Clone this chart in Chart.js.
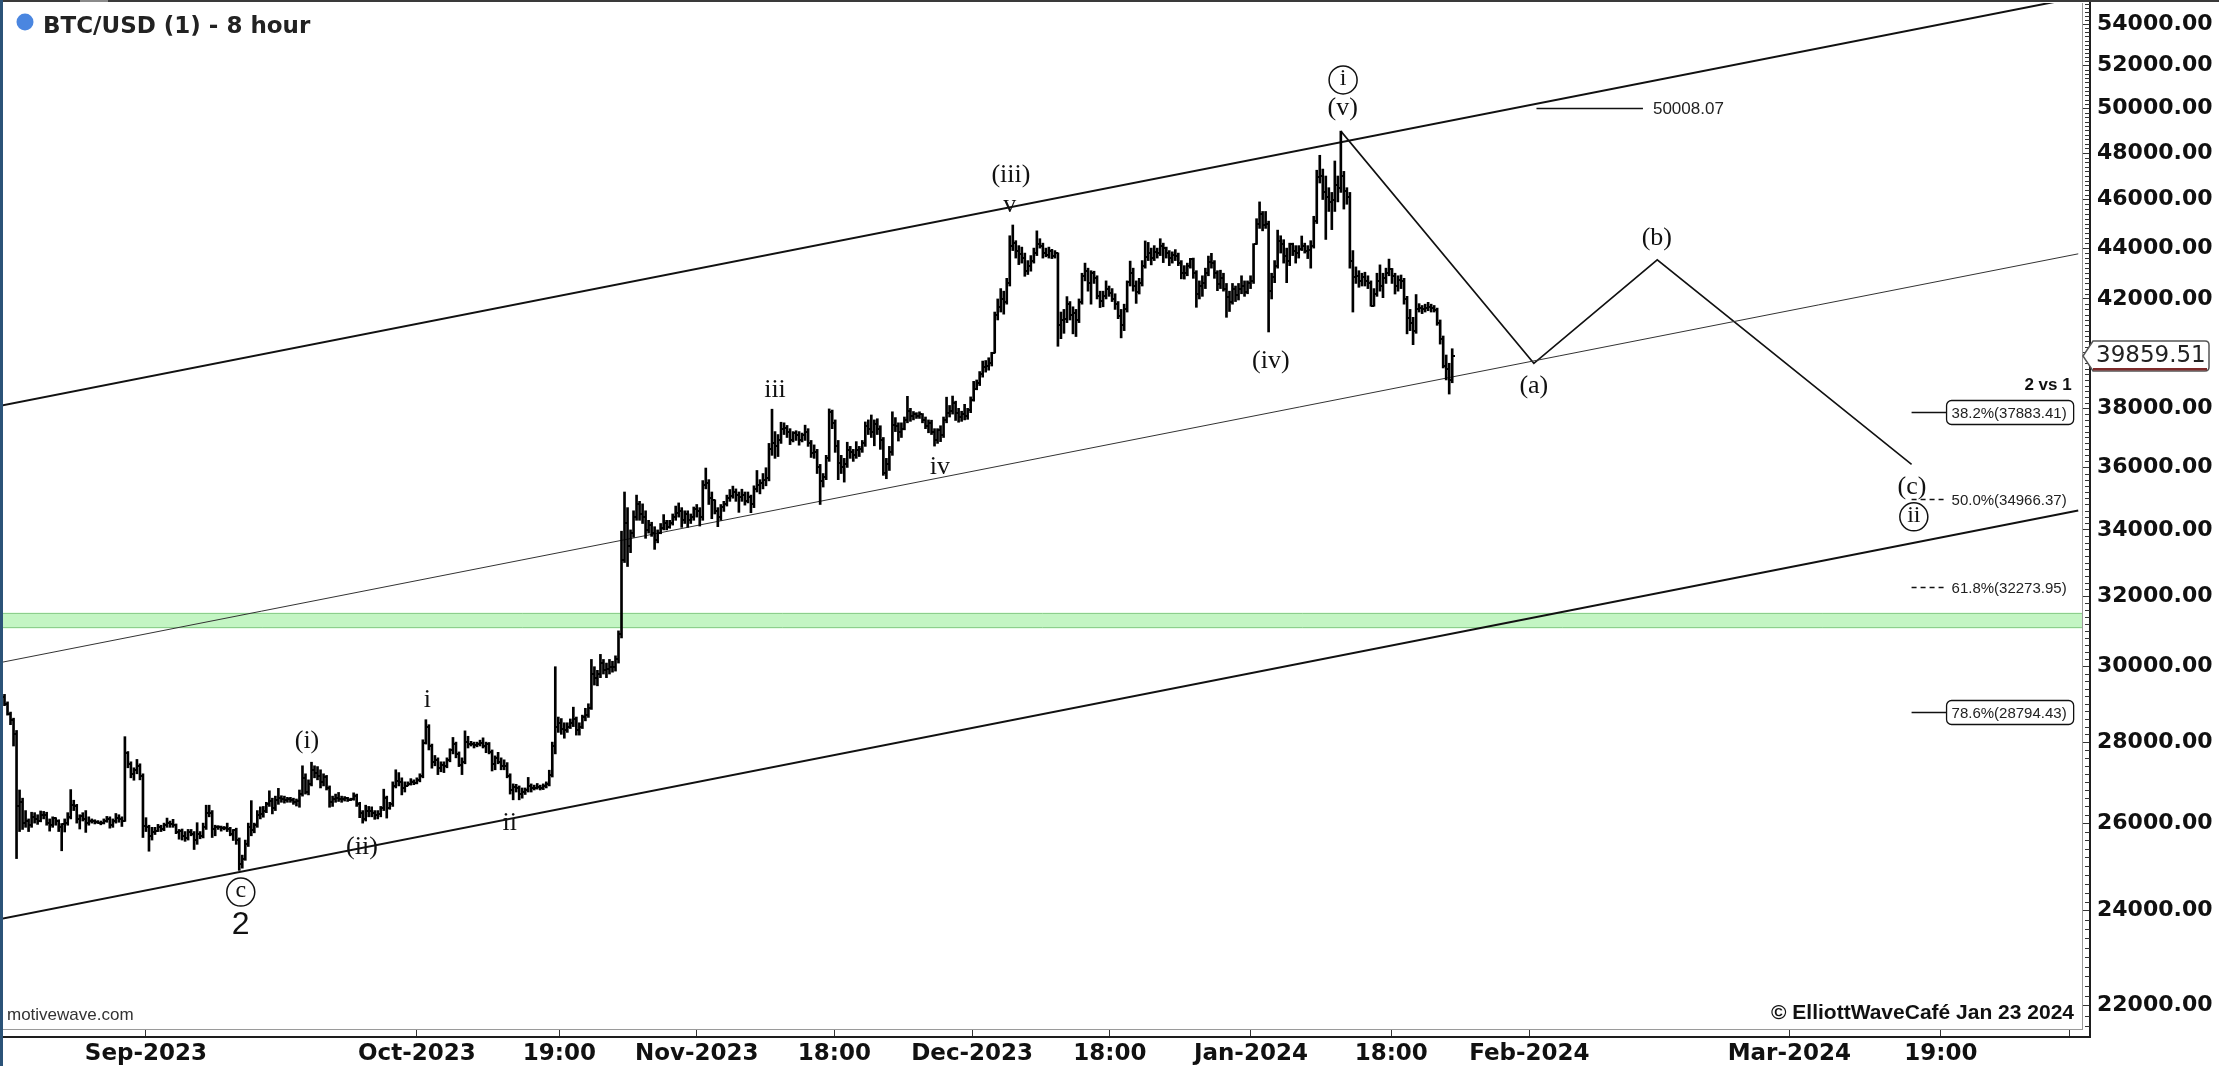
<!DOCTYPE html>
<html>
<head>
<meta charset="utf-8">
<title>BTC/USD (1) - 8 hour</title>
<script src="https://cdn.jsdelivr.net/npm/chart.js@4.4.1/dist/chart.umd.min.js"></script>
<style>
  html, body { margin: 0; padding: 0; background: #fff; }
  #wrap { width: 2219px; height: 1066px; }
</style>
</head>
<body>
<div id="wrap"><canvas id="chart" width="2219" height="1066"></canvas></div>
<script>
// ========================
// DATA (8 hour bars, one line per day)
// ========================
const firstBarTime = Date.UTC(2023, 7, 16, 8);
const BAR_MS = 8 * 3600 * 1000;
const firstOpen = 29170;

const barHigh = [
  // Aug
  29250, 29050,
  28780, 28620, 28300,
  26800, 26600, 26300,
  26100, 26260, 26250,
  26200, 26290, 26280,
  26260, 26100, 26150,
  26130, 26080, 25990,
  26100, 26250, 26810,
  26550, 26450, 26200,
  26250, 26300, 26150,
  26100, 26080, 26060,
  26050, 26100, 26160,
  26150, 26100, 26230,
  26200, 26150, 28140,
  27760, 27500, 27350,
  27560, 27450, 27200,
  // Sep
  26130, 25950, 25900,
  25900, 25970, 25950,
  26000, 26120, 26050,
  26090, 25980, 25850,
  25860, 25800, 25850,
  25850, 25800, 26010,
  25800, 26000, 26430,
  26430, 26300, 25950,
  25940, 25930, 25920,
  26000, 25900, 25850,
  25880, 25650, 25250,
  25600, 26000, 26540,
  26000, 26300, 26390,
  26400, 26500, 26780,
  26600, 26650, 26840,
  26660, 26650, 26620,
  26620, 26600, 26580,
  26800, 27400, 27200,
  27050, 27490, 27400,
  27380, 27300, 27200,
  27160, 26900, 26650,
  26700, 26740, 26650,
  26640, 26620, 26600,
  26730, 26700, 26500,
  26300, 26430, 26400,
  26390, 26300, 26300,
  26400, 26820, 26650,
  26500, 27000, 27300,
  27230, 27100, 27000,
  27000, 27080, 27050,
  // Oct
  27100, 27200, 28060,
  28580, 28450, 27950,
  27660, 27600, 27500,
  27500, 27600, 27830,
  28120, 28000, 27750,
  27600, 28290, 28150,
  28020, 28000, 28000,
  28050, 28110, 28000,
  27990, 27800, 27650,
  27740, 27600, 27550,
  27480, 27200, 26950,
  26940, 26900, 26850,
  26850, 27110, 26950,
  26920, 26960, 26920,
  26950, 27000, 27290,
  28000, 30000, 28650,
  28610, 28500, 28500,
  28600, 28910, 28650,
  28500, 28700, 28880,
  29000, 30200, 30000,
  29900, 30340, 30200,
  30100, 30200, 30150,
  30300, 31000, 33960,
  35200, 34700, 34000,
  34600, 35100, 34900,
  34820, 34600, 34300,
  34240, 34100, 34000,
  34200, 34480, 34300,
  34300, 34500, 34750,
  34850, 34700, 34600,
  34600, 34500, 34720,
  // Nov
  34800, 34700, 35570,
  35980, 35600, 35200,
  34950, 34700, 34800,
  34900, 35100, 35280,
  35390, 35300, 35200,
  35290, 35200, 35200,
  35100, 35400, 35900,
  35600, 35800, 35990,
  36800, 37970, 37200,
  37100, 37520, 37500,
  37410, 37300, 37200,
  37230, 37200, 37150,
  37420, 37300, 36900,
  36750, 36600, 36100,
  35800, 36400, 37980,
  37940, 37600, 36900,
  36400, 36300, 36840,
  36700, 36600, 36860,
  36700, 36900, 37530,
  37600, 37770, 37600,
  37640, 37400, 37000,
  36300, 36700, 37880,
  37680, 37500, 37500,
  37700, 38420, 38000,
  37890, 37850, 37880,
  37820, 37700, 37600,
  37590, 37300, 37300,
  37400, 37700, 38390,
  38100, 38430, 38250,
  38000, 37900, 38140,
  // Dec
  38000, 38400, 38950,
  39000, 39300, 39680,
  39700, 39800, 40000,
  41500, 42000, 42400,
  42300, 42800, 44500,
  44940, 44300, 44100,
  44040, 43800, 43500,
  43700, 44000, 44700,
  44380, 44200, 44000,
  44040, 43950, 43900,
  43810, 41500, 41600,
  42090, 41900, 41700,
  41600, 42000, 43000,
  43400, 43200, 43100,
  43080, 42900, 42300,
  42300, 42700, 42500,
  42400, 42200, 41900,
  41600, 41800, 42700,
  43480, 43200, 42700,
  42800, 43500, 44290,
  44230, 44000, 44100,
  44000, 44380, 44200,
  44040, 43900, 43850,
  43940, 43800, 43500,
  43300, 43400, 43590,
  43600, 43100, 42700,
  42900, 43200, 43680,
  43790, 43500, 43100,
  43120, 43000, 42600,
  42300, 42600, 42500,
  42600, 42900, 42700,
  // Jan
  42700, 42900, 44180,
  45200, 45900, 45500,
  45500, 45100, 43000,
  43500, 44730, 44500,
  44340, 44000, 44200,
  44200, 44100, 44100,
  44490, 44200, 44100,
  44300, 45300, 47250,
  47900, 47300, 47000,
  46500, 46300, 47650,
  47000, 48970, 47200,
  46500, 46300, 43900,
  43250, 43100, 43000,
  43040, 42900, 42700,
  42400, 43000, 43330,
  43000, 43200, 43560,
  43190, 43000, 42900,
  42930, 42800, 42100,
  41600, 41300, 42170,
  41820, 41750, 41800,
  41870, 41800, 41750,
  41650, 41200, 40600,
  39900, 39600, 40130
];

const barLow = [
  // Aug
  28950, 28700,
  28450, 27900, 25170,
  25800, 25850, 25900,
  25800, 25900, 26000,
  25970, 26030, 26100,
  25950, 25810, 25900,
  25950, 25800, 25350,
  25790, 25950, 26100,
  26300, 26000, 25860,
  26050, 25780, 25950,
  26000, 25980, 25990,
  25960, 25980, 26020,
  25880, 25900, 26000,
  26020, 25920, 26040,
  27350, 27100, 27040,
  27200, 27050, 25660,
  // Sep
  25800, 25340, 25600,
  25730, 25800, 25800,
  25820, 25900, 25900,
  25900, 25750, 25620,
  25600, 25570, 25600,
  25700, 25380, 25500,
  25630, 25650, 25850,
  26150, 25660, 25700,
  25850, 25810, 25840,
  25800, 25700, 25590,
  25500, 24900, 24950,
  25130, 25450, 25700,
  25770, 25900, 26100,
  26140, 26250, 26400,
  26220, 26300, 26450,
  26500, 26480, 26500,
  26500, 26450, 26410,
  26380, 26650, 26700,
  26680, 26900, 27100,
  27050, 26850, 26900,
  26800, 26380, 26400,
  26500, 26520, 26500,
  26530, 26520, 26540,
  26550, 26400, 26130,
  26000, 26050, 26150,
  26150, 26090, 26100,
  26150, 26300, 26120,
  26330, 26400, 26850,
  26900, 26680, 26750,
  26900, 26920, 26930,
  // Oct
  26950, 27000, 27100,
  27950, 27800, 27340,
  27400, 27180, 27250,
  27230, 27350, 27500,
  27700, 27600, 27380,
  27180, 27450, 27850,
  27900, 27850, 27880,
  27900, 27850, 27730,
  27700, 27270, 27300,
  27450, 27300, 27300,
  27100, 26700, 26560,
  26750, 26560, 26600,
  26690, 26750, 26750,
  26800, 26820, 26800,
  26810, 26850, 26900,
  27120, 27700, 28250,
  28200, 28100, 28250,
  28350, 28400, 28180,
  28180, 28350, 28550,
  28640, 28850, 29500,
  29480, 29700, 29800,
  29700, 29800, 29850,
  29880, 30100, 30800,
  33000, 32880, 33300,
  33770, 34300, 34300,
  34200, 33740, 33900,
  33800, 33400, 33600,
  33880, 34000, 34000,
  34050, 34150, 34300,
  34400, 34080, 34200,
  34080, 34200, 34300,
  // Nov
  34400, 34120, 34300,
  35300, 34800, 34350,
  34500, 34100, 34300,
  34580, 34750, 34900,
  35000, 34900, 34550,
  34900, 34780, 34850,
  34540, 34700, 35200,
  35140, 35300, 35400,
  35560, 36400, 36300,
  36360, 36800, 37100,
  37000, 36760, 36850,
  36900, 36740, 36850,
  36900, 36700, 36330,
  36300, 35800, 34800,
  35360, 35600, 36200,
  37300, 36500, 35600,
  35800, 35520, 36000,
  36300, 36200, 36300,
  36360, 36500, 36700,
  37100, 37000, 36720,
  37100, 36600, 35740,
  35630, 35900, 36400,
  37200, 36880, 37000,
  37260, 37500, 37550,
  37600, 37650, 37650,
  37500, 37300, 37160,
  37100, 36710, 36800,
  36860, 37000, 37500,
  37700, 37800, 37580,
  37520, 37550, 37600,
  // Dec
  37620, 37850, 38250,
  38650, 38800, 39100,
  39280, 39350, 39500,
  39970, 41200, 41500,
  41420, 41800, 42500,
  43900, 43600, 43340,
  43400, 42880, 42950,
  43080, 43400, 43700,
  44000, 43600, 43650,
  43600, 43580, 43600,
  40220, 40500, 40700,
  41100, 41200, 40680,
  40580, 41100, 41800,
  42700, 42300, 41800,
  42600, 42000, 41670,
  41700, 42000, 42100,
  41900, 41600, 41250,
  40530, 40800, 41500,
  42500, 42300, 41830,
  42190, 42500, 43200,
  43500, 43330, 43500,
  43600, 43700, 43420,
  43600, 43300, 43400,
  43500, 43300, 42780,
  42770, 42900, 43200,
  42800, 41680, 42000,
  42100, 42400, 42900,
  43200, 42800, 42320,
  42400, 42300, 41300,
  41520, 41800, 41900,
  41960, 42200, 42100,
  // Jan
  42200, 42400, 42600,
  44150, 44800, 44700,
  44800, 40750, 42000,
  42630, 43200, 43800,
  43400, 42630, 43300,
  43700, 43400, 43600,
  43900, 43800, 43580,
  43200, 44000, 45000,
  46700, 46000, 44350,
  45500, 44750, 45500,
  45900, 46300, 45600,
  45800, 43200, 41500,
  42600, 42450, 42500,
  42500, 42400, 41720,
  41720, 42100, 42300,
  42050, 42600, 42900,
  42600, 42190, 42300,
  42400, 41800, 40680,
  40800, 40280, 40700,
  41500, 41440, 41500,
  41550, 41500, 41500,
  41000, 40300, 39430,
  39000, 38500, 38900
];

const barClose = [
  // Aug
  29000, 28720,
  28560, 28200, 26400,
  26500, 26000, 26050,
  25950, 26150, 26100,
  26050, 26200, 26190,
  26000, 25950, 26120,
  26050, 25900, 25990,
  26000, 26150, 26430,
  26420, 26100, 26160,
  26100, 26000, 26050,
  26050, 26020, 26010,
  26000, 26060, 26090,
  25950, 26050, 26110,
  26100, 26050, 27720,
  27450, 27200, 27300,
  27400, 27150, 25940,
  // Sep
  25900, 25700, 25800,
  25820, 25900, 25870,
  25950, 26000, 25970,
  25950, 25800, 25810,
  25700, 25650, 25780,
  25750, 25600, 25750,
  25700, 25900, 26240,
  26250, 25850, 25910,
  25900, 25880, 25890,
  25850, 25750, 25830,
  25600, 25050, 25160,
  25500, 25900, 25840,
  25950, 26200, 26220,
  26300, 26450, 26530,
  26350, 26550, 26600,
  26580, 26550, 26570,
  26560, 26500, 26530,
  26700, 27100, 26760,
  26950, 27300, 27210,
  27150, 27000, 27130,
  26850, 26500, 26570,
  26600, 26580, 26580,
  26600, 26560, 26580,
  26650, 26450, 26250,
  26100, 26300, 26300,
  26250, 26200, 26220,
  26350, 26600, 26350,
  26450, 26900, 27020,
  27000, 26850, 26910,
  26950, 27000, 26970,
  // Oct
  27050, 27150, 27990,
  28400, 27900, 27500,
  27550, 27350, 27430,
  27400, 27550, 27790,
  27950, 27700, 27410,
  27500, 28000, 27950,
  27950, 27920, 27960,
  27980, 27900, 27940,
  27750, 27450, 27590,
  27500, 27400, 27390,
  27150, 26800, 26880,
  26850, 26700, 26760,
  26800, 26900, 26860,
  26850, 26880, 26860,
  26900, 26950, 27160,
  27900, 28400, 28500,
  28350, 28300, 28400,
  28500, 28600, 28320,
  28400, 28650, 28710,
  28900, 29800, 29680,
  29800, 30100, 29910,
  29950, 30000, 29990,
  30200, 30900, 33080,
  34200, 33500, 33900,
  34400, 34800, 34500,
  34400, 34000, 34160,
  33900, 33700, 33910,
  34050, 34200, 34090,
  34200, 34400, 34540,
  34600, 34300, 34500,
  34300, 34400, 34660,
  // Nov
  34600, 34400, 35440,
  35500, 35000, 34940,
  34600, 34400, 34730,
  34800, 35000, 35080,
  35200, 35100, 35050,
  35100, 34900, 35050,
  34800, 35300, 35430,
  35500, 35600, 35650,
  36600, 36800, 36700,
  36900, 37300, 37320,
  37200, 36900, 37140,
  37100, 36900, 37070,
  37200, 36800, 36480,
  36500, 36000, 35550,
  35700, 36300, 37880,
  37500, 36700, 36150,
  36000, 36100, 36590,
  36500, 36400, 36590,
  36600, 36800, 37380,
  37300, 37200, 37470,
  37300, 36900, 35810,
  36100, 36500, 37430,
  37400, 37200, 37290,
  37600, 37900, 37720,
  37800, 37750, 37800,
  37600, 37400, 37480,
  37200, 36900, 37250,
  37100, 37600, 37830,
  37900, 38200, 37850,
  37700, 37800, 37720,
  // Dec
  37950, 38300, 38690,
  38900, 39200, 39470,
  39500, 39600, 39980,
  41400, 41700, 41980,
  41900, 42600, 44080,
  44200, 43900, 43770,
  43600, 43100, 43290,
  43500, 43800, 44170,
  44100, 43800, 43720,
  43900, 43700, 43790,
  41000, 41200, 41240,
  41800, 41400, 41450,
  41200, 41900, 42890,
  43100, 42600, 43020,
  42800, 42100, 41930,
  42100, 42400, 42240,
  42000, 41800, 41360,
  41000, 41600, 42650,
  43000, 42500, 42270,
  42600, 43300, 43660,
  43800, 43600, 43860,
  43800, 44100, 43990,
  43800, 43600, 43740,
  43700, 43400, 43020,
  43000, 43300, 43580,
  43000, 42200, 42520,
  42600, 43000, 43440,
  43400, 43000, 42580,
  42800, 42400, 42070,
  41900, 42400, 42140,
  42400, 42500, 42280,
  // Jan
  42600, 42700, 44180,
  45000, 45400, 44950,
  45000, 42300, 42850,
  43300, 44300, 44180,
  43700, 43500, 44160,
  43900, 43800, 43970,
  44100, 43900, 43930,
  44100, 45100, 46970,
  47000, 46300, 46110,
  45900, 46000, 46630,
  46500, 47000, 46350,
  46100, 43500, 42850,
  42900, 42700, 42840,
  42700, 42600, 41730,
  42200, 42700, 42510,
  42800, 43000, 43150,
  42900, 42500, 42740,
  42700, 42000, 41260,
  41100, 40800, 41620,
  41650, 41600, 41660,
  41700, 41650, 41560,
  41100, 40500, 39500,
  39400, 39000, 39859.51
];

// axes
const viewStart = Date.UTC(2023, 7, 16, 4);
const viewEnd = Date.UTC(2024, 3, 2, 10);
const priceMin = 21536;
const priceMax = 55061;
const priceTicks = [22000, 24000, 26000, 28000, 30000, 32000, 34000, 36000, 38000, 40000,
  42000, 44000, 46000, 48000, 50000, 52000, 54000];
const dateTickTimes = [
  Date.UTC(2023, 8, 1), Date.UTC(2023, 9, 1), Date.UTC(2023, 9, 16, 19),
  Date.UTC(2023, 10, 1), Date.UTC(2023, 10, 16, 6), Date.UTC(2023, 11, 1, 12),
  Date.UTC(2023, 11, 16, 18), Date.UTC(2024, 0, 1, 9), Date.UTC(2024, 0, 16, 22),
  Date.UTC(2024, 1, 1, 5), Date.UTC(2024, 2, 1), Date.UTC(2024, 2, 17, 19), Date.UTC(2024, 3, 1)
];
const dateTickLabels = ['Sep-2023', 'Oct-2023', '19:00', 'Nov-2023', '18:00', 'Dec-2023',
  '18:00', 'Jan-2024', '18:00', 'Feb-2024', 'Mar-2024', '19:00', ''];

// channel
const channelTimes = [Date.UTC(2023, 7, 16), Date.UTC(2024, 3, 2)];
const upperChannel = [38100, 55350];
const middleChannel = [30120, 43770];
const lowerChannel = [23820, 34610];

// projected path (v) -> (a) -> (b) -> (c)
const pathTimes = [Date.UTC(2024, 0, 11, 8), Date.UTC(2024, 1, 1, 17), Date.UTC(2024, 1, 15, 9), Date.UTC(2024, 2, 14, 13)];
const pathPrices = [48970, 39600, 43530, 36100];

// wave labels
const waveText = ['(i)', 'i', '(ii)', 'ii', 'c', '2', 'iii', 'iv', '(iii)', 'v', '(iv)', '(v)', 'i', '(a)', '(b)', '(c)', 'ii'];
const waveStyle = ['p', 'p', 'p', 'p', 'o', 'big', 'p', 'p', 'p', 'p', 'p', 'p', 'o', 'p', 'p', 'p', 'o'];
const waveTimes = [
  Date.UTC(2023, 8, 18, 20), Date.UTC(2023, 9, 2, 4), Date.UTC(2023, 8, 24, 22), Date.UTC(2023, 9, 11, 7),
  Date.UTC(2023, 8, 11, 12), Date.UTC(2023, 8, 11, 12), Date.UTC(2023, 10, 9, 16), Date.UTC(2023, 10, 27, 22),
  Date.UTC(2023, 11, 5, 19), Date.UTC(2023, 11, 5, 16), Date.UTC(2024, 0, 3, 14), Date.UTC(2024, 0, 11, 13),
  Date.UTC(2024, 0, 11, 14), Date.UTC(2024, 1, 1, 17), Date.UTC(2024, 1, 15, 8), Date.UTC(2024, 2, 14, 14),
  Date.UTC(2024, 2, 14, 19)
];
const wavePrices = [28030, 29100, 25430, 26000, 24410, 23690, 38640, 36020, 47040, 45770, 39680, 50020,
  51320, 38790, 44410, 35360, 34410];

// fib retracement of wave (i)
const fibPct = ['38.2%', '50.0%', '61.8%', '78.6%'];
const fibPrice = [37883.41, 34966.37, 32273.95, 28794.43];
const fibBoxed = [true, false, false, true];
const fibTimes = [Date.UTC(2024, 2, 14, 13), Date.UTC(2024, 2, 18, 10)];

const markPrice = 50008.07;
const markTimes = [Date.UTC(2024, 1, 2), Date.UTC(2024, 1, 13, 19)];

const zoneLow = 31070;
const zoneHigh = 31520;

// ========================
// DERIVED
// ========================
const barTime = barClose.map((_, i) => firstBarTime + i * BAR_MS);
const barOpen = barClose.map((_, i) => i === 0 ? firstOpen : barClose[i - 1]);

function lineSet(times, prices, width, color, dash) {
  return {
    type: 'line',
    data: times.map((t, i) => ({ x: t, y: prices[i] })),
    borderColor: color,
    borderWidth: width,
    borderDash: dash || [],
    pointRadius: 0,
    fill: false,
    tension: 0
  };
}

// ========================
// DRAWING EXTRAS
// ========================
const decor = {
  id: 'decor',
  beforeDraw(chart) {
    const { ctx, width, height } = chart;
    ctx.save();
    ctx.fillStyle = '#fff';
    ctx.fillRect(0, 0, width, height);
    ctx.restore();
  },
  beforeDatasetsDraw(chart) {
    const { ctx, chartArea: a, scales: { y } } = chart;
    const y1 = y.getPixelForValue(zoneHigh);
    const y2 = y.getPixelForValue(zoneLow);
    ctx.save();
    ctx.fillStyle = '#c3f5c3';
    ctx.fillRect(a.left, y1, a.right - a.left, y2 - y1);
    ctx.strokeStyle = '#8ccf8c';
    ctx.lineWidth = 1;
    ctx.beginPath();
    ctx.moveTo(a.left, Math.round(y1) + 0.5); ctx.lineTo(a.right, Math.round(y1) + 0.5);
    ctx.moveTo(a.left, Math.round(y2) - 0.5); ctx.lineTo(a.right, Math.round(y2) - 0.5);
    ctx.stroke();
    ctx.restore();
  },
  afterDatasetDraw(chart, args) {
    if (args.index !== 0) return;
    const { ctx, chartArea: a, scales: { x, y } } = chart;
    ctx.save();
    ctx.beginPath();
    ctx.rect(a.left, a.top, a.right - a.left, a.bottom - a.top);
    ctx.clip();
    ctx.fillStyle = '#000';
    barTime.forEach((t, i) => {
      const px = Math.round(x.getPixelForValue(t));
      ctx.fillRect(px - 3, Math.round(y.getPixelForValue(barOpen[i])) - 1, 2, 2);
      ctx.fillRect(px + 1, Math.round(y.getPixelForValue(barClose[i])) - 1, 2, 2);
    });
    ctx.restore();
  },
  afterDraw(chart) {
    const { ctx, chartArea: a, scales: { x, y } } = chart;
    ctx.save();

    // fib levels
    const fx1 = x.getPixelForValue(fibTimes[0]);
    const fx2 = x.getPixelForValue(fibTimes[1]);
    ctx.font = '15px "Liberation Sans", Arial, sans-serif';
    ctx.textBaseline = 'middle';
    ctx.textAlign = 'left';
    fibPct.forEach((p, i) => {
      const fy = Math.round(y.getPixelForValue(fibPrice[i])) + 0.5;
      const txt = p + '(' + fibPrice[i].toFixed(2) + ')';
      ctx.strokeStyle = '#111';
      ctx.lineWidth = 1.3;
      ctx.setLineDash(fibBoxed[i] ? [] : [5, 4]);
      ctx.beginPath(); ctx.moveTo(fx1, fy); ctx.lineTo(fx2, fy); ctx.stroke();
      ctx.setLineDash([]);
      const tw = ctx.measureText(txt).width;
      if (fibBoxed[i]) {
        ctx.fillStyle = '#fff';
        ctx.beginPath();
        ctx.roundRect(fx2, fy - 12, tw + 12, 24, 5);
        ctx.fill();
        ctx.lineWidth = 1.3;
        ctx.stroke();
      }
      ctx.fillStyle = '#222';
      ctx.fillText(txt, fx2 + 5, fy + 1);
      if (i === 0) {
        ctx.font = 'bold 17px "Liberation Sans", Arial, sans-serif';
        ctx.textAlign = 'right';
        ctx.fillStyle = '#111';
        ctx.fillText('2 vs 1', fx2 + tw + 10, fy - 27);
        ctx.font = '15px "Liberation Sans", Arial, sans-serif';
        ctx.textAlign = 'left';
      }
    });

    // 50008.07 mark
    const my = Math.round(y.getPixelForValue(markPrice)) + 0.5;
    const mx2 = x.getPixelForValue(markTimes[1]);
    ctx.strokeStyle = '#111';
    ctx.lineWidth = 1.3;
    ctx.beginPath(); ctx.moveTo(x.getPixelForValue(markTimes[0]), my); ctx.lineTo(mx2, my); ctx.stroke();
    ctx.font = '17px "Liberation Sans", Arial, sans-serif';
    ctx.fillStyle = '#222';
    ctx.fillText(markPrice.toFixed(2), mx2 + 10, my + 1);

    // wave labels
    ctx.textAlign = 'center';
    waveText.forEach((t, i) => {
      const lx = x.getPixelForValue(waveTimes[i]);
      const ly = y.getPixelForValue(wavePrices[i]);
      ctx.fillStyle = '#111';
      if (waveStyle[i] === 'big') {
        ctx.font = '32px "Liberation Sans", Arial, sans-serif';
        ctx.fillText(t, lx, ly);
        return;
      }
      if (waveStyle[i] === 'o') {
        ctx.fillStyle = '#fff';
        ctx.strokeStyle = '#111';
        ctx.lineWidth = 1.5;
        ctx.beginPath(); ctx.arc(lx, ly, 14, 0, Math.PI * 2); ctx.fill(); ctx.stroke();
        ctx.fillStyle = '#111';
        ctx.font = '24px "Liberation Serif", "Times New Roman", serif';
        ctx.fillText(t, lx, ly - 1);
        return;
      }
      ctx.font = '26px "Liberation Serif", "Times New Roman", serif';
      ctx.fillText(t, lx, ly);
    });

    // frame, axis lines
    ctx.fillStyle = '#1e1e1e';
    ctx.fillRect(a.right + 7, 0, 2, a.bottom + 9);
    ctx.fillRect(0, a.bottom + 7, a.right + 9, 2);
    ctx.fillStyle = '#3a3a3a';
    ctx.fillRect(0, 0, chart.width, 2);
    ctx.fillStyle = '#8a8a8a';
    ctx.fillRect(80, 0, 28, 2);
    ctx.fillStyle = '#2b5378';
    ctx.fillRect(0, 0, 3, chart.height);

    // minor price ticks
    ctx.strokeStyle = '#333';
    ctx.lineWidth = 1;
    ctx.beginPath();
    for (let v = 21600; v <= 55000; v += 200) {
      if (v % 2000 === 0) continue;
      const ty = Math.round(y.getPixelForValue(v)) + 0.5;
      if (ty < a.top || ty > a.bottom) continue;
      ctx.moveTo(a.right + 3, ty); ctx.lineTo(a.right + 8, ty);
    }
    ctx.stroke();

    // last price box
    const last = barClose[barClose.length - 1];
    const yc = Math.round(y.getPixelForValue(last));
    const bx = a.right + 1;
    ctx.beginPath();
    ctx.moveTo(bx, yc);
    ctx.lineTo(bx + 10, yc - 15);
    ctx.lineTo(bx + 122, yc - 15);
    ctx.quadraticCurveTo(bx + 126, yc - 15, bx + 126, yc - 11);
    ctx.lineTo(bx + 126, yc + 11);
    ctx.quadraticCurveTo(bx + 126, yc + 15, bx + 122, yc + 15);
    ctx.lineTo(bx + 10, yc + 15);
    ctx.closePath();
    ctx.fillStyle = '#fff';
    ctx.fill();
    ctx.strokeStyle = '#555';
    ctx.lineWidth = 1.5;
    ctx.stroke();
    ctx.fillStyle = '#7d2a2a';
    ctx.fillRect(bx + 10, yc + 12, 114, 2.5);
    ctx.fillStyle = '#222';
    ctx.font = '23px "DejaVu Sans", Verdana, sans-serif';
    ctx.textAlign = 'left';
    ctx.fillText(last.toFixed(2), bx + 13, yc);

    // title
    ctx.fillStyle = '#4a86e0';
    ctx.beginPath(); ctx.arc(25, 22, 8.5, 0, Math.PI * 2); ctx.fill();
    ctx.fillStyle = '#222';
    ctx.font = 'bold 23px "DejaVu Sans", Verdana, sans-serif';
    ctx.textBaseline = 'alphabetic';
    ctx.fillText('BTC/USD (1) - 8 hour', 43, 33);

    // watermarks
    ctx.textBaseline = 'middle';
    ctx.font = '17px "Liberation Sans", Arial, sans-serif';
    ctx.fillStyle = '#333';
    ctx.fillText('motivewave.com', 7, 1015);
    ctx.font = 'bold 21px "Liberation Sans", Arial, sans-serif';
    ctx.fillStyle = '#111';
    ctx.textAlign = 'right';
    ctx.fillText('\u00A9 ElliottWaveCaf\u00E9 Jan 23 2024', 2074, 1013);

    ctx.restore();
  }
};

// ========================
// CHART
// ========================
Chart.defaults.font.family = '"DejaVu Sans", Verdana, sans-serif';

new Chart(document.getElementById('chart'), {
  type: 'bar',
  data: {
    datasets: [
      {
        type: 'bar',
        data: barTime.map((t, i) => ({ x: t, y: [barLow[i], barHigh[i]] })),
        backgroundColor: '#000',
        borderWidth: 0,
        barThickness: 2,
        minBarLength: 1,
        grouped: false
      },
      lineSet(channelTimes, upperChannel, 2, '#111'),
      lineSet(channelTimes, middleChannel, 1, '#333'),
      lineSet(channelTimes, lowerChannel, 2, '#111'),
      lineSet(pathTimes, pathPrices, 1.6, '#111')
    ]
  },
  options: {
    responsive: false,
    animation: false,
    devicePixelRatio: 1,
    events: [],
    layout: { padding: { left: 3, top: 3, right: 0, bottom: 0 } },
    plugins: { legend: { display: false }, tooltip: { enabled: false } },
    scales: {
      x: {
        type: 'linear',
        min: viewStart,
        max: viewEnd,
        bounds: 'data',
        offset: false,
        grid: { display: true, drawOnChartArea: false, offset: false, tickLength: 8, color: '#333', lineWidth: 1 },
        border: { display: true, color: '#9a9a9a', width: 1 },
        ticks: {
          autoSkip: false,
          maxRotation: 0,
          padding: 3,
          color: '#111',
          font: { size: 23, weight: 'bold' },
          callback: (v, i) => dateTickLabels[i]
        },
        afterBuildTicks: s => { s.ticks = dateTickTimes.map(v => ({ value: v })); },
        afterFit: s => { s.height = 37; s.paddingLeft = 0; s.paddingRight = 0; }
      },
      y: {
        type: 'logarithmic',
        position: 'right',
        min: priceMin,
        max: priceMax,
        bounds: 'data',
        beginAtZero: false,
        grid: { display: true, drawOnChartArea: false, tickLength: 8, color: '#333', lineWidth: 1 },
        border: { display: true, color: '#9a9a9a', width: 1 },
        ticks: {
          autoSkip: false,
          padding: 7,
          color: '#111',
          font: { size: 22, weight: 'bold' },
          callback: v => (v === 40000 ? '' : Number(v).toFixed(2))
        },
        afterBuildTicks: s => { s.ticks = priceTicks.map(v => ({ value: v })); },
        afterFit: s => { s.width = 137; s.paddingTop = 0; s.paddingBottom = 0; }
      }
    }
  },
  plugins: [decor]
});
</script>
</body>
</html>
